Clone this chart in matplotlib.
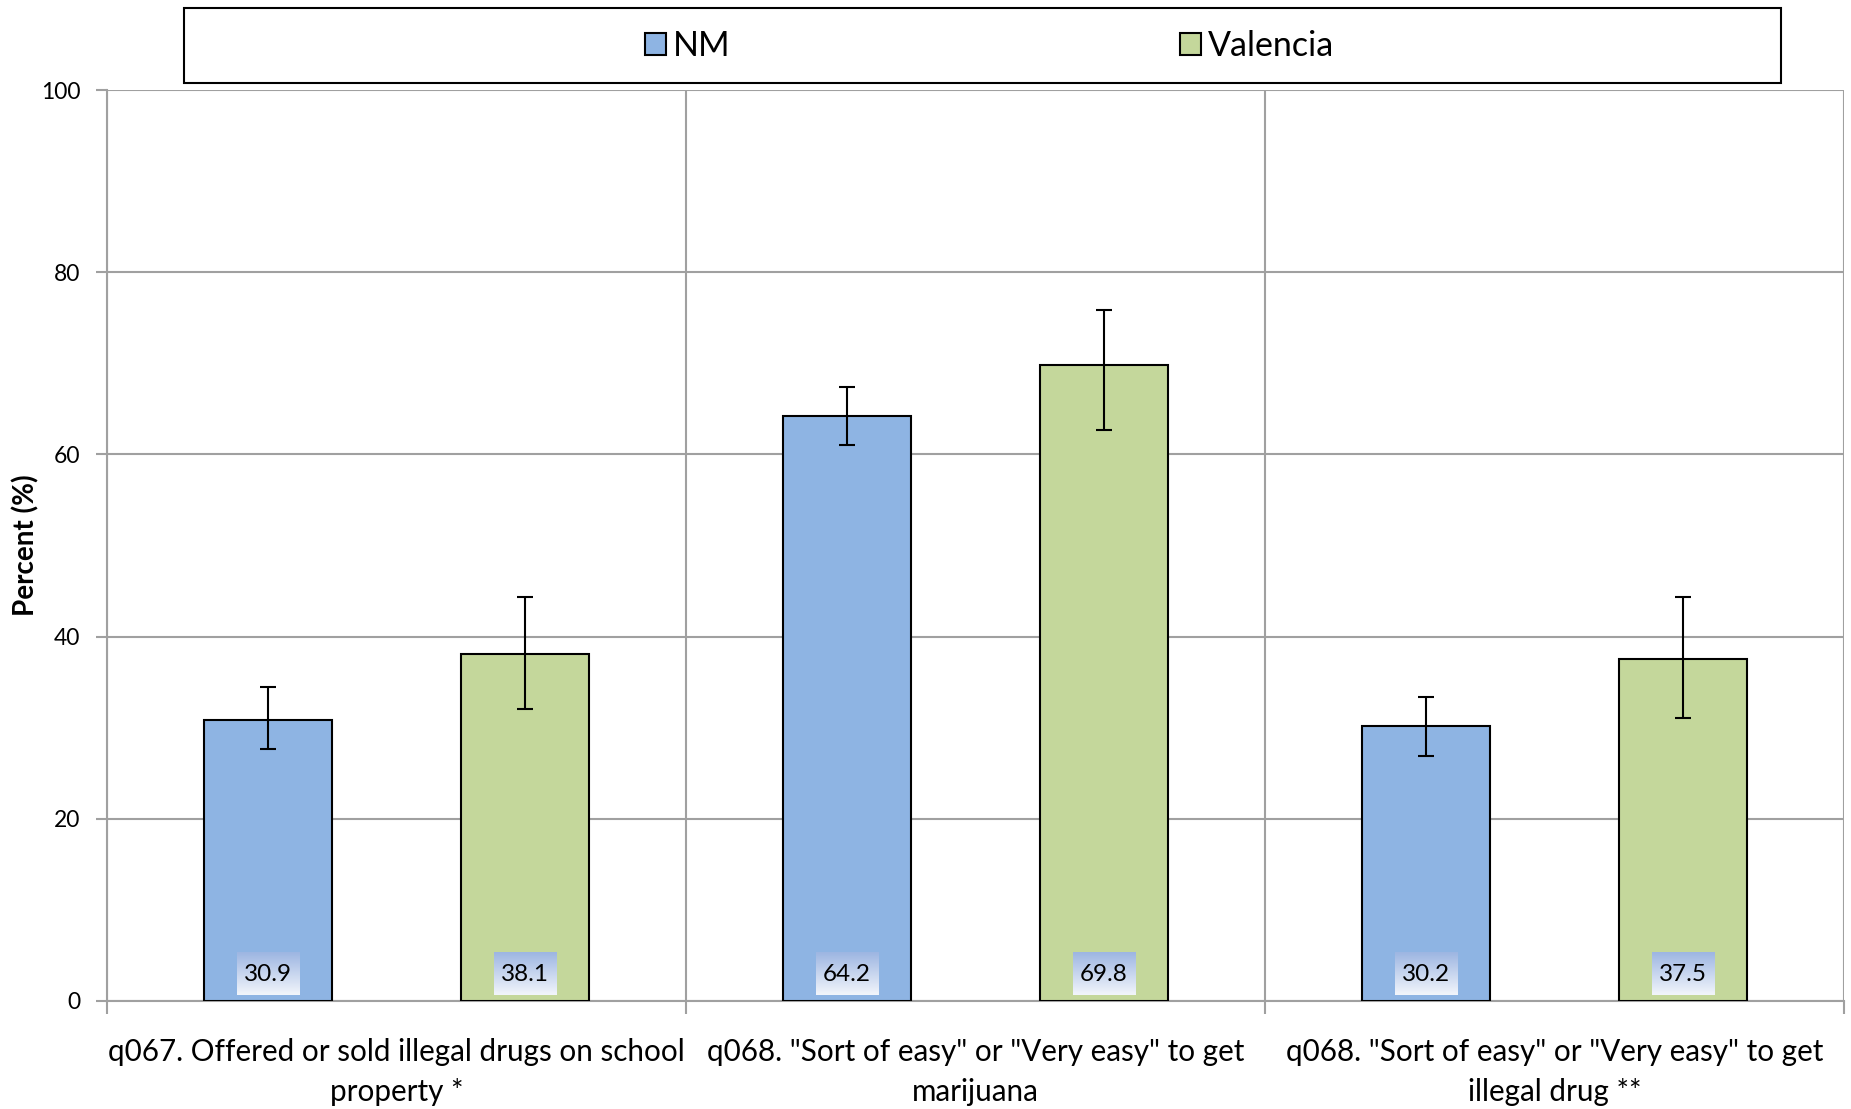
import numpy as np
import matplotlib.pyplot as plt
from matplotlib.patches import Rectangle
from matplotlib.colors import LinearSegmentedColormap

plt.rcParams['font.family'] = ['Lato', 'DejaVu Sans']

categories = ['q067. Offered or sold illegal drugs on school\nproperty *',
              'q068. "Sort of easy" or "Very easy" to get\nmarijuana',
              'q068. "Sort of easy" or "Very easy" to get\nillegal drug **']
series = ['NM', 'Valencia']
nm_vals = [30.9, 64.2, 30.2]
nm_low = [27.7, 61.0, 26.9]
nm_high = [34.5, 67.4, 33.4]
val_vals = [38.1, 69.8, 37.5]
val_low = [32.0, 62.7, 31.1]
val_high = [44.4, 75.9, 44.4]
colors = ['#8EB4E3', '#C4D79B']
yticks = [0, 20, 40, 60, 80, 100]

fig = plt.figure(figsize=(18.51, 11.09), dpi=100)
ax = fig.add_axes([0.0578, 0.0974, 0.9384, 0.8214])

x = np.arange(len(categories))
w = 0.222
grid_c = '#A0A0A0'
box_cmap = LinearSegmentedColormap.from_list('g', ['#9DB6E2', '#F2F5FB'])

for off, vals, lo, hi, col, name in [(-w, nm_vals, nm_low, nm_high, colors[0], series[0]),
                                     (w, val_vals, val_low, val_high, colors[1], series[1])]:
    vals = np.array(vals)
    err = [vals - np.array(lo), np.array(hi) - vals]
    ax.bar(x + off, vals, width=w, color=col, edgecolor='black', linewidth=1.5,
           label=name, zorder=3)
    ax.errorbar(x + off, vals, yerr=err, fmt='none', ecolor='black', elinewidth=1.5,
                capsize=6, capthick=1.5, zorder=4)
    # value labels with gradient box at bar bottom
    grad = np.linspace(0, 1, 50).reshape(-1, 1)
    for xi, v in zip(x + off, vals):
        ax.imshow(grad, cmap=box_cmap, aspect='auto',
                  extent=(xi - 0.054, xi + 0.054, 0.65, 5.3), origin='upper', zorder=5)
        ax.text(xi, 2.9, f'{v:.1f}', ha='center', va='center', fontsize=17.5, zorder=6)

ax.set_xlim(-0.5, 2.5)
ax.set_ylim(0, 100)
ax.set_yticks(yticks)
ax.set_yticklabels([str(t) for t in yticks], fontsize=16.5)
ax.set_xticks([-0.5, 0.5, 1.5, 2.5])
ax.set_xticklabels([])
ax.set_xticks(x, minor=True)
ax.set_xticklabels(categories, minor=True, fontsize=21.3, linespacing=1.5)
ax.tick_params(axis='x', which='minor', length=0, pad=27)
ax.tick_params(axis='x', which='major', length=9, color=grid_c, width=1.5, direction='out')
ax.tick_params(axis='y', length=8, color=grid_c, width=1.5, pad=11)
ax.grid(axis='y', color=grid_c, linewidth=1.5, zorder=0)
ax.grid(axis='x', which='major', color=grid_c, linewidth=1.5, zorder=0)
for s in ['top', 'right']:
    ax.spines[s].set_visible(False)
for s in ['left', 'bottom']:
    ax.spines[s].set_color(grid_c)
    ax.spines[s].set_linewidth(1.5)
ax.set_ylabel('Percent (%)', fontsize=20, fontweight='bold')
ax.yaxis.set_label_coords(-0.039, 0.5)

# legend box
fig.patches.append(Rectangle((0.0994, 0.925), 0.8628, 0.068, transform=fig.transFigure,
                             facecolor='white', edgecolor='black', linewidth=1.5))
fig.legend(loc='center', bbox_to_anchor=(0.5345, 0.9585), ncol=2, frameon=False,
           fontsize=24.5, handlelength=0.62, handleheight=0.62, handletextpad=0.2,
           columnspacing=13.2)

fig.savefig('out.png', dpi=100)
